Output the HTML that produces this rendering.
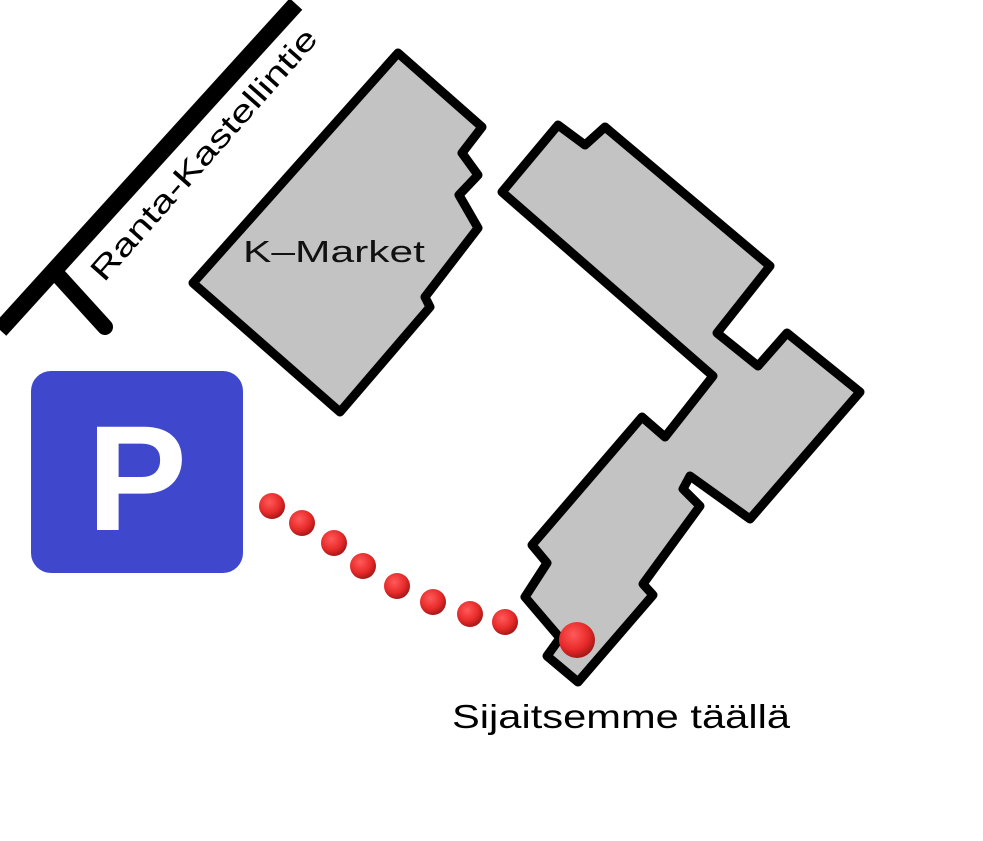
<!DOCTYPE html>
<html><head><style>body{margin:0;background:#fff}svg{display:block}</style></head><body>
<svg width="983" height="841" viewBox="0 0 983 841" xmlns="http://www.w3.org/2000/svg">
<defs><radialGradient id="g" cx="0.4" cy="0.35" r="0.7"><stop offset="0" stop-color="#ff5a5a"/><stop offset="0.6" stop-color="#e82a2a"/><stop offset="1" stop-color="#9a1515"/></radialGradient></defs>
<line x1="0" y1="330" x2="296" y2="4" stroke="#000" stroke-width="17"/>
<line x1="55" y1="272" x2="105" y2="327" stroke="#000" stroke-width="16" stroke-linecap="round"/>
<text transform="translate(104,283) rotate(-48.5)" font-family="Liberation Sans, sans-serif" font-size="31" fill="#000" textLength="325" lengthAdjust="spacingAndGlyphs">Ranta-Kastellintie</text>
<polygon points="398,53 482,127 462,153 478,175 459,195 478,228 425,297 430,307 340,412 193,283" fill="#c3c3c3" stroke="#000" stroke-width="9" stroke-linejoin="round"/>
<text x="243" y="262" font-family="Liberation Sans, sans-serif" font-size="31" fill="#111" textLength="182" lengthAdjust="spacingAndGlyphs">K–Market</text>
<polygon points="558,125 585,145 605,127 770,266 717,333 758,366 787,333 860,392 750,519 690,476 683,489 700,506 643,584 653,595 578,682 547,656 560,638 525,597 547,563 532,545 642,417 665,437 713,376 502,192" fill="#c3c3c3" stroke="#000" stroke-width="9" stroke-linejoin="round"/>
<rect x="31" y="371" width="212" height="202" rx="20" fill="#3f48cc"/>
<text x="137" y="530" text-anchor="middle" font-family="Liberation Sans, sans-serif" font-weight="bold" font-size="150" fill="#fff">P</text>
<g fill="url(#g)">
<circle cx="272" cy="506" r="13"/><circle cx="302" cy="523" r="13"/><circle cx="334" cy="543" r="13"/><circle cx="363" cy="566" r="13"/><circle cx="397" cy="586" r="13"/><circle cx="433" cy="602" r="13"/><circle cx="470" cy="614" r="13"/><circle cx="505" cy="622" r="13"/><circle cx="577" cy="640" r="18"/>
</g>
<text x="452" y="728" font-family="Liberation Sans, sans-serif" font-size="33" fill="#000" textLength="338" lengthAdjust="spacingAndGlyphs">Sijaitsemme täällä</text>
</svg>
</body></html>
